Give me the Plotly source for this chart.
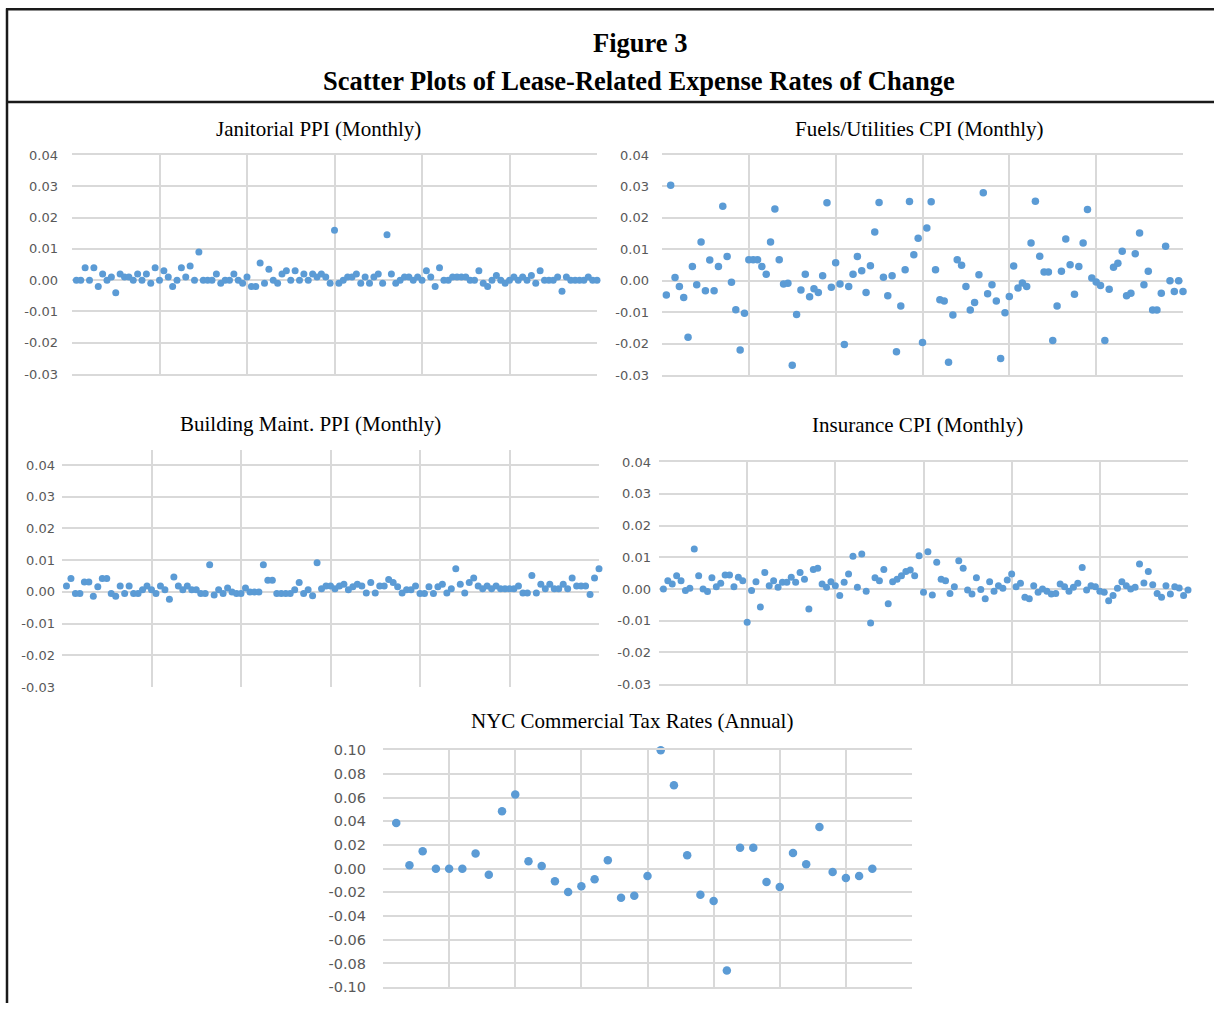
import plotly.graph_objects as go

# ---------------- data ----------------
janitorial = [0.000, 0.000, 0.004, 0.000, 0.004, -0.002, 0.002, 0.000, 0.001, -0.004,
              0.002, 0.001, 0.001, 0.000, 0.002, 0.000, 0.002, -0.001, 0.004, 0.000,
              0.003, 0.001, -0.002, 0.000, 0.004, 0.001, 0.0045, 0.000, 0.009, 0.000,
              0.000, 0.000, 0.002, -0.001, 0.000, 0.000, 0.002, 0.000, -0.001, 0.001,
              -0.002, -0.002, 0.0055, -0.001, 0.0035, 0.000, -0.001, 0.002, 0.003, 0.000,
              0.003, 0.000, 0.002, 0.000, 0.002, 0.001, 0.002, 0.001, -0.001, 0.016,
              -0.001, 0.000, 0.001, 0.001, 0.002, -0.001, 0.001, -0.001, 0.001, 0.002,
              -0.001, 0.0145, 0.002, -0.001, 0.000, 0.001, 0.001, 0.000, 0.001, 0.000,
              0.003, 0.001, -0.002, 0.004, 0.000, 0.000, 0.001, 0.001, 0.001, 0.001,
              0.000, 0.000, 0.003, -0.001, -0.002, 0.000, 0.0015, 0.000, -0.001, 0.000,
              0.001, 0.000, 0.001, 0.000, 0.0015, -0.001, 0.003, 0.000, 0.000, 0.000,
              0.001, -0.0035, 0.001, 0.000, 0.000, 0.000, 0.000, 0.001, 0.000, 0.000]

fuels = [-0.0045, 0.0304, 0.001, -0.0018, -0.0053, -0.018, 0.0045, -0.0013, 0.0123, -0.0032,
         0.0066, -0.0032, 0.0045, 0.0237, 0.0077, -0.0005, -0.0092, -0.022, -0.0103, 0.0067,
         0.0067, 0.0067, 0.0045, 0.0021, 0.0123, 0.0228, 0.0067, -0.001, -0.0008, -0.0269,
         -0.0107, -0.0029, 0.0021, -0.0051, -0.0025, -0.0037, 0.0016, 0.0248, -0.0021, 0.0057,
         -0.001, -0.0203, -0.0018, 0.0021, 0.0077, 0.0032, -0.0037, 0.0048, 0.0155, 0.0249,
         0.0011, -0.0048, 0.0016, -0.0226, -0.008, 0.0035, 0.0252, 0.0083, 0.0135, -0.0196,
         0.0168, 0.0251, 0.0035, -0.006, -0.0064, -0.0259, -0.0109, 0.0067, 0.0049, -0.0018,
         -0.0093, -0.0069, 0.0019, 0.028, -0.0041, -0.0013, -0.0064, -0.0247, -0.0102, -0.005,
         0.0047, -0.0023, -0.0007, -0.0018, 0.012, 0.0253, 0.0078, 0.0028, 0.0028, -0.019,
         -0.008, 0.003, 0.0133, 0.0051, -0.0043, 0.0045, 0.012, 0.0227, 0.0009, -0.0004,
         -0.0015, -0.019, -0.0027, 0.0043, 0.0056, 0.0094, -0.0048, -0.004, 0.0086, 0.0152,
         -0.0013, 0.003, -0.0093, -0.0093, -0.004, 0.011, 0.000, -0.0034, 0.000, -0.0034]

building = [0.0019, 0.0042, -0.0005, -0.0005, 0.0031, 0.0031, -0.0014, 0.0016, 0.0042, 0.0042,
            -0.0005, -0.0014, 0.0019, -0.0005, 0.0019, -0.0005, -0.0005, 0.0007, 0.0019, 0.0007,
            -0.0005, 0.0019, 0.0007, -0.0023, 0.0047, 0.0019, 0.0007, 0.0019, 0.0007, 0.0007,
            -0.0005, -0.0005, 0.0086, -0.001, 0.0007, -0.0005, 0.0012, 0.0000, -0.0005, -0.0005,
            0.0012, 0.0000, 0.0000, 0.0000, 0.0086, 0.0037, 0.0037, -0.0005, -0.0005, -0.0005,
            -0.0005, 0.0007, 0.003, -0.0005, 0.0007, -0.0012, 0.0092, 0.001, 0.0019, 0.0019,
            0.001, 0.0019, 0.0024, 0.0007, 0.0016, 0.0024, 0.0019, -0.0003, 0.003, -0.0003,
            0.0019, 0.0019, 0.0039, 0.003, 0.0016, -0.0003, 0.0007, 0.0007, 0.0019, -0.0005,
            -0.0005, 0.0016, -0.0005, 0.0016, 0.0024, -0.0003, 0.001, 0.0073, 0.0024, -0.0003,
            0.003, 0.0044, 0.0019, 0.001, 0.0019, 0.001, 0.0019, 0.001, 0.001, 0.001,
            0.001, 0.0019, -0.0003, -0.0003, 0.0052, -0.0003, 0.0024, 0.001, 0.0024, 0.001,
            0.001, 0.0024, 0.001, 0.0044, 0.0019, 0.0019, 0.0019, -0.0008, 0.0044, 0.0073]

insurance = [0.000, 0.0026, 0.0016, 0.0042, 0.0026, -0.0005, 0.0002, 0.0126, 0.0042, 0.000,
             -0.0008, 0.0035, 0.0007, 0.0018, 0.0044, 0.0044, 0.0007, 0.0037, 0.0026, -0.0105,
             -0.0005, 0.0023, -0.0057, 0.0052, 0.001, 0.0026, 0.0005, 0.0021, 0.0021, 0.0037,
             0.0021, 0.0052, 0.0031, -0.0063, 0.0061, 0.0065, 0.0016, 0.0005, 0.0023, 0.001,
             -0.0021, 0.0021, 0.0047, 0.0103, 0.0005, 0.011, -0.0007, -0.0107, 0.0035, 0.0026,
             0.0061, -0.0047, 0.0023, 0.0031, 0.0042, 0.0055, 0.006, 0.0042, 0.0105, -0.001,
             0.0117, -0.0019, 0.0084, 0.0031, 0.0026, -0.0014, 0.0007, 0.0089, 0.0065, -0.0003,
             -0.0016, 0.0035, -0.0002, -0.0031, 0.0023, -0.0007, 0.001, 0.0002, 0.0028, 0.0047,
             0.0007, 0.0018, -0.0026, -0.0031, 0.001, -0.001, 0.000, -0.0007, -0.0016, -0.0014,
             0.0016, 0.0007, -0.0007, 0.0005, 0.0018, 0.0068, -0.0003, 0.001, 0.0007, -0.0007,
             -0.001, -0.0037, -0.0021, 0.0002, 0.0023, 0.001, 0.000, 0.0005, 0.0079, 0.0019,
             0.0055, 0.0013, -0.0014, -0.0026, 0.001, -0.0016, 0.0007, 0.0003, -0.0021, -0.0003]

nyc_tax = [0.0386, 0.0028, 0.0146, 0.0, 0.0, 0.0, 0.0127, -0.0051, 0.0485, 0.0625,
           0.0062, 0.0023, -0.0107, -0.0197, -0.0149, -0.009, 0.007, -0.0245, -0.0228, -0.0062,
           0.1, 0.0704, 0.0113, -0.022, -0.0273, -0.0859, 0.0177, 0.0177, -0.0113, -0.0155,
           0.0132, 0.0037, 0.0352, -0.0028, -0.0079, -0.0062, 0.0]

monthly_ticks = [-0.03, -0.02, -0.01, 0.00, 0.01, 0.02, 0.03, 0.04]
monthly_ticktext = ["-0.03", "-0.02", "-0.01", "0.00", "0.01", "0.02", "0.03", "0.04"]
annual_ticks = [-0.10, -0.08, -0.06, -0.04, -0.02, 0.00, 0.02, 0.04, 0.06, 0.08, 0.10]
annual_ticktext = ["-0.10", "-0.08", "-0.06", "-0.04", "-0.02", "0.00", "0.02", "0.04", "0.06", "0.08", "0.10"]

panel_titles = ["Janitorial PPI (Monthly)", "Fuels/Utilities CPI (Monthly)",
                "Building Maint. PPI (Monthly)", "Insurance CPI (Monthly)",
                "NYC Commercial Tax Rates (Annual)"]
fig_title = "Figure 3"
fig_subtitle = "Scatter Plots of Lease-Related Expense Rates of Change"

# ---------------- layout helpers ----------------
W, H = 1214, 1011
TOP = 8          # the photographed page shows an 8px band above the figure
VSCALE = 0.984   # and is slightly compressed vertically
def fx(p):
    return p / W
def fy(p):
    return 1 - ((p - TOP) / VSCALE) / H

BLUE = "#5b9bd5"
GRID = "#d9d9d9"
TICKCOL = "#595959"
TICKFONT = "DejaVu Sans, Liberation Sans, sans-serif"

fig = go.Figure()

panels = [
    dict(data=janitorial, xs=(72, 597), ys=(155, 374), xr=[0, 120], xt=list(range(0, 121, 20)),
         yr=[-0.03, 0.04], yt=monthly_ticks, ytt=monthly_ticktext, so=13, box=True, ms=7, fs=13),
    dict(data=fuels, xs=(662, 1183), ys=(155, 375), xr=[0, 120], xt=list(range(0, 121, 20)),
         yr=[-0.03, 0.04], yt=monthly_ticks, ytt=monthly_ticktext, so=12, box=True, ms=7.5, fs=13),
    dict(data=building, xs=(62, 599), ys=(450, 687), xr=[0, 120], xt=list(range(20, 121, 20)),
         yr=[-0.03, 0.0447], yt=monthly_ticks, ytt=monthly_ticktext, so=6, box=False, ms=7, fs=13),
    dict(data=insurance, xs=(659, 1188), ys=(462, 684), xr=[0, 120], xt=list(range(0, 121, 20)),
         yr=[-0.03, 0.04], yt=monthly_ticks, ytt=monthly_ticktext, so=7, box=True, ms=7, fs=13),
    dict(data=nyc_tax, xs=(383, 912), ys=(750, 987), xr=[0, 40], xt=list(range(0, 41, 5)),
         yr=[-0.10, 0.10], yt=annual_ticks, ytt=annual_ticktext, so=16, box=True, ms=8.5, fs=14.5),
]

for k, p in enumerate(panels, start=1):
    xa = "x" if k == 1 else f"x{k}"
    ya = "y" if k == 1 else f"y{k}"
    xs = list(range(1, len(p["data"]) + 1))
    fig.add_trace(go.Scatter(x=xs, y=p["data"], mode="markers", xaxis=xa, yaxis=ya,
                             marker=dict(color=BLUE, size=p["ms"]), cliponaxis=False,
                             showlegend=False, hoverinfo="x+y"))
    xkey = "xaxis" if k == 1 else f"xaxis{k}"
    ykey = "yaxis" if k == 1 else f"yaxis{k}"
    fig.layout[xkey] = dict(domain=[fx(p["xs"][0]), fx(p["xs"][1])], range=p["xr"],
                            tickmode="array", tickvals=p["xt"], showticklabels=False,
                            showgrid=True, gridcolor=GRID, gridwidth=1.5, zeroline=False,
                            showline=p["box"], linecolor=GRID, linewidth=1.5, mirror=p["box"],
                            anchor=ya, fixedrange=True)
    fig.layout[ykey] = dict(domain=[fy(p["ys"][1]), fy(p["ys"][0])], range=p["yr"],
                            tickmode="array", tickvals=p["yt"], ticktext=p["ytt"],
                            showgrid=True, gridcolor=GRID, gridwidth=1.5, zeroline=False,
                            showline=False, ticks="", ticklabelstandoff=p["so"],
                            tickfont=dict(family=TICKFONT, size=p["fs"], color=TICKCOL),
                            anchor=xa, fixedrange=True)

# titles
serif = "Liberation Serif, Times New Roman, serif"
ann = [
    dict(text=f"<b>{fig_title}</b>", x=fx(640), y=fy(43), size=26.5),
    dict(text=f"<b>{fig_subtitle}</b>", x=fx(639), y=fy(81), size=26.5),
    dict(text=panel_titles[0], x=fx(318), y=fy(129), size=21),
    dict(text=panel_titles[1], x=fx(919), y=fy(129), size=21),
    dict(text=panel_titles[2], x=fx(310), y=fy(424), size=21),
    dict(text=panel_titles[3], x=fx(918), y=fy(425), size=21),
    dict(text=panel_titles[4], x=fx(632), y=fy(721), size=21),
]
for a in ann:
    fig.add_annotation(text=a["text"], x=a["x"], y=a["y"], xref="paper", yref="paper",
                       xanchor="center", yanchor="middle", showarrow=False,
                       font=dict(family=serif, size=a["size"], color="#000000"))

# frame lines
shapes = [
    dict(x0=fx(6), x1=fx(1214), y0=fy(9.2), y1=fy(9.2)),
    dict(x0=fx(7), x1=fx(7), y0=fy(8.5), y1=0),
    dict(x0=fx(6), x1=fx(1214), y0=fy(102), y1=fy(102)),
]
for s in shapes:
    fig.add_shape(type="line", xref="paper", yref="paper", line=dict(color="#1a1a1a", width=2.5), **s)

fig.update_layout(width=W, height=H, margin=dict(l=0, r=0, t=0, b=0),
                  paper_bgcolor="white", plot_bgcolor="white", showlegend=False)

fig.write_html("out.html",
               config=dict(displayModeBar=False),
               post_script="document.body.style.margin='0';document.body.style.overflow='hidden';")
